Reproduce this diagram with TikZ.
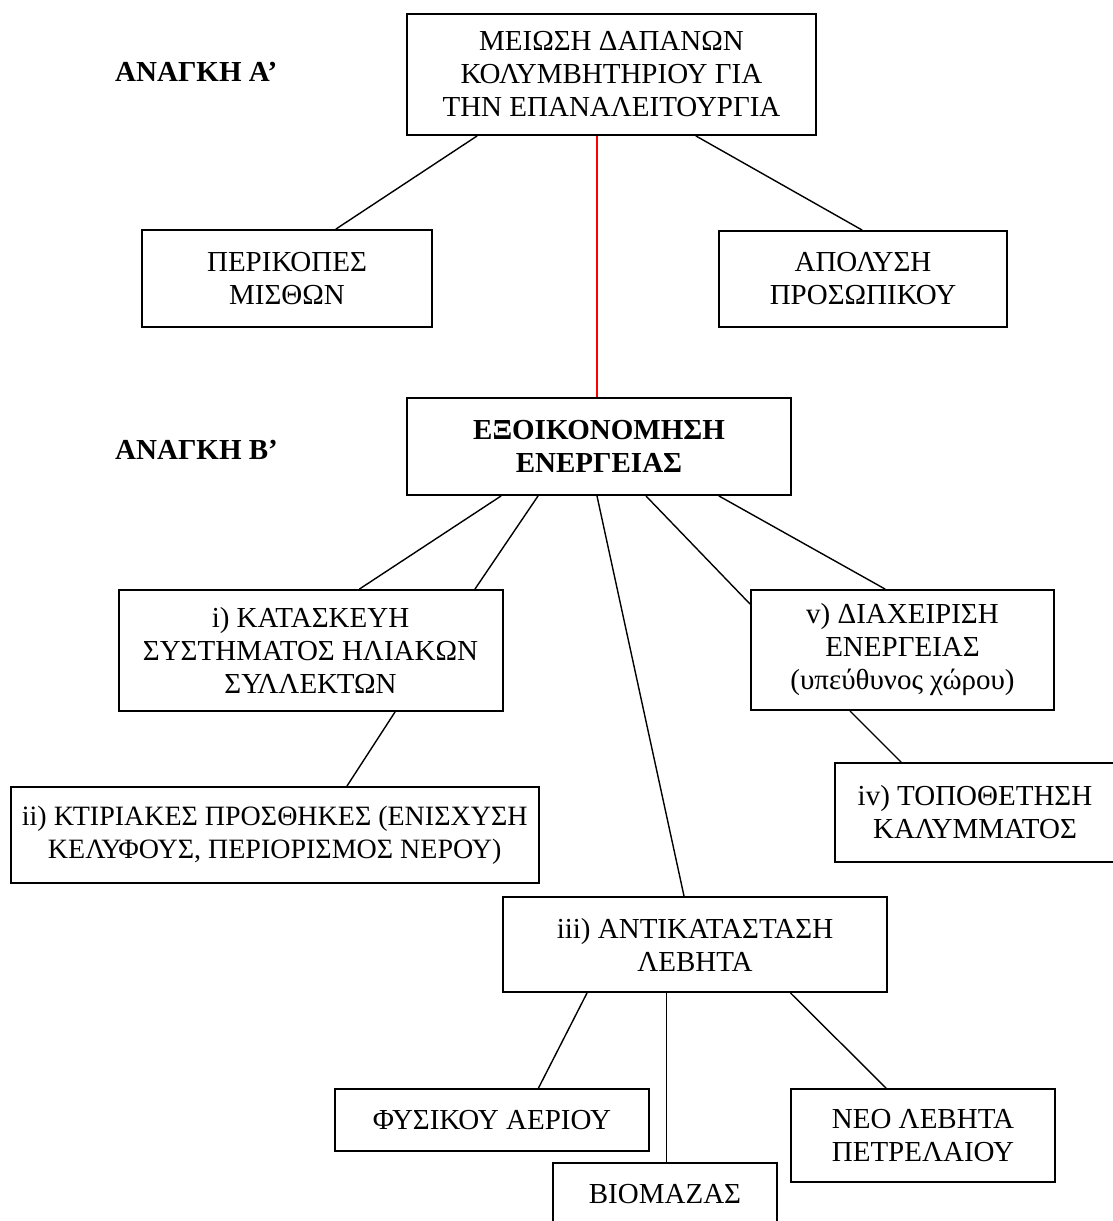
\documentclass[tikz,border=0pt]{standalone}
\usepackage{fontspec}
\setmainfont{Liberation Serif}
\newcommand\dgfont{\fontsize{29}{33}\selectfont}
\begin{document}
\begin{tikzpicture}[x=1pt,y=-1pt,
  box/.style={draw, line width=2pt, inner sep=0pt, align=center, font=\dgfont},
  conn/.style={line width=1.4pt, line cap=round},
  redconn/.style={line width=1.4pt, color=red},
  need/.style={inner sep=0pt, font=\dgfont\bfseries, anchor=base west}]
\fill[white] (0,0) rectangle (1113,1221);
\useasboundingbox (0,0) rectangle (1113,1221);

% level A
\node[need] (needA) at (115,81) {ΑΝΑΓΚΗ Α’};
\node[box, minimum width=409pt, minimum height=121pt] (top) at (611.5,74.5)
  {ΜΕΙΩΣΗ ΔΑΠΑΝΩΝ\\ΚΟΛΥΜΒΗΤΗΡΙΟΥ ΓΙΑ\\ΤΗΝ ΕΠΑΝΑΛΕΙΤΟΥΡΓΙΑ};
\node[box, minimum width=290pt, minimum height=97pt] (perik) at (287,278.5)
  {ΠΕΡΙΚΟΠΕΣ\\ΜΙΣΘΩΝ};
\node[box, minimum width=288pt, minimum height=96pt] (apol) at (863,279)
  {ΑΠΟΛΥΣΗ\\ΠΡΟΣΩΠΙΚΟΥ};

% level B
\node[need] (needB) at (115,459) {ΑΝΑΓΚΗ Β’};
\node[box, minimum width=384pt, minimum height=97pt, font=\dgfont\bfseries] (save) at (599,446.5)
  {ΕΞΟΙΚΟΝΟΜΗΣΗ\\ΕΝΕΡΓΕΙΑΣ};
\node[box, minimum width=384pt, minimum height=121pt] (solar) at (310.5,650.5)
  {i) ΚΑΤΑΣΚΕΥΗ\\ΣΥΣΤΗΜΑΤΟΣ ΗΛΙΑΚΩΝ\\ΣΥΛΛΕΚΤΩΝ};
\node[box, minimum width=303pt, minimum height=120pt] (mgmt) at (902.5,650)
  {v) ΔΙΑΧΕΙΡΙΣΗ\\ΕΝΕΡΓΕΙΑΣ\\(υπεύθυνος χώρου)};
\node[box, minimum width=528.5pt, minimum height=96pt, font=\fontsize{28}{33}\selectfont] (build) at (274.75,835)
  {ii) ΚΤΙΡΙΑΚΕΣ ΠΡΟΣΘΗΚΕΣ (ΕΝΙΣΧΥΣΗ\\ΚΕΛΥΦΟΥΣ, ΠΕΡΙΟΡΙΣΜΟΣ ΝΕΡΟΥ)};
\node[box, minimum width=280pt, minimum height=99pt] (cover) at (975,812.5)
  {iv) ΤΟΠΟΘΕΤΗΣΗ\\ΚΑΛΥΜΜΑΤΟΣ};
\node[box, minimum width=384pt, minimum height=95pt] (boiler) at (695,944.5)
  {iii) ΑΝΤΙΚΑΤΑΣΤΑΣΗ\\ΛΕΒΗΤΑ};
\node[box, minimum width=314pt, minimum height=62pt] (gas) at (492,1120)
  {ΦΥΣΙΚΟΥ ΑΕΡΙΟΥ};
\node[box, minimum width=224pt, minimum height=62pt] (bio) at (665,1194)
  {ΒΙΟΜΑΖΑΣ};
\node[box, minimum width=264pt, minimum height=93pt] (oil) at (923,1135.5)
  {ΝΕΟ ΛΕΒΗΤΑ\\ΠΕΤΡΕΛΑΙΟΥ};

% connectors
\draw[conn] ([xshift=71pt]top.south west) -- ([xshift=195pt]perik.north west);
\draw[conn] ([xshift=290pt]top.south west) -- ([xshift=144pt]apol.north west);
\draw[redconn] ([xshift=191pt]top.south west) -- ([xshift=191pt]save.north west);

\draw[conn] ([xshift=95pt]save.south west) -- ([xshift=242pt]solar.north west);
\draw[conn] ([xshift=132pt]save.south west) -- ([xshift=357.5pt]solar.north west);
\draw[conn] ([xshift=191pt]save.south west) -- ([xshift=182pt]boiler.north west);
\draw[conn] ([xshift=240pt]save.south west) -- ([yshift=-15pt]mgmt.north west);
\draw[conn] ([xshift=313pt]save.south west) -- ([xshift=135pt]mgmt.north west);

\draw[conn] ([xshift=277.5pt]solar.south west) -- ([xshift=337.5pt]build.north west);
\draw[conn] ([xshift=100pt]mgmt.south west) -- ([xshift=67pt]cover.north west);

\draw[conn] ([xshift=85pt]boiler.south west) -- ([xshift=204.5pt]gas.north west);
\draw[conn] ([xshift=164.5pt]boiler.south west) -- ([xshift=114.5pt]bio.north west);
\draw[conn] ([xshift=288.5pt]boiler.south west) -- ([xshift=96pt]oil.north west);
\end{tikzpicture}
\end{document}
